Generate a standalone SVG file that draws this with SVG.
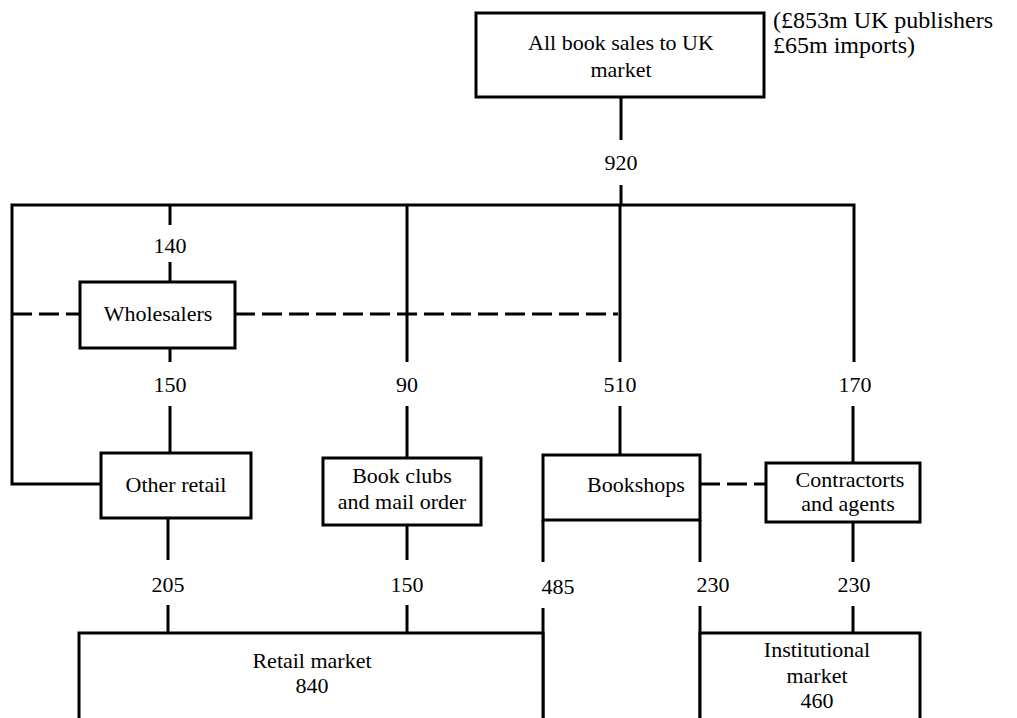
<svg xmlns="http://www.w3.org/2000/svg" width="1017" height="718" viewBox="0 0 1017 718">
<style>
.box{fill:#fff;stroke:#000;stroke-width:3}
.ln{fill:none;stroke:#000;stroke-width:3}
.dash{fill:none;stroke:#000;stroke-width:3;stroke-dasharray:20 7}
text{font-family:'Liberation Serif','Times New Roman',serif;font-size:22px;fill:#000}
.c{text-anchor:middle}
.note{font-size:24px}
</style>
<rect width="1017" height="718" fill="#fff"/>
<g id="connectors">
<path class="ln" d="M621 97V140M621 185V205"/>
<path class="ln" d="M101 484H12V205H854V362"/>
<path class="ln" d="M170 205V225M170 262V282"/>
<path class="ln" d="M170 348V362M170 406V453"/>
<path class="ln" d="M407 205V362M407 406V458"/>
<path class="ln" d="M620 205V362M620 406V455"/>
<path class="ln" d="M853 406V463"/>
<path class="dash" d="M12 314H80M235 314H618"/>
<path class="dash" d="M700 484H766"/>
<path class="ln" d="M543 520V562M543 608V718"/>
<path class="ln" d="M700 520V562M700 606V718"/>
<path class="ln" d="M168 518V560M168 605V633"/>
<path class="ln" d="M407 525V560M407 605V633"/>
<path class="ln" d="M853 522V562M853 606V633"/>
<text class="c" x="621" y="170">920</text>
<text class="c" x="170" y="253">140</text>
<text class="c" x="170" y="392">150</text>
<text class="c" x="407" y="392">90</text>
<text class="c" x="620" y="392">510</text>
<text class="c" x="855" y="392">170</text>
<text class="c" x="168" y="592">205</text>
<text class="c" x="407" y="592">150</text>
<text class="c" x="558" y="594">485</text>
<text class="c" x="713" y="592">230</text>
<text class="c" x="854" y="592">230</text>
</g>
<g id="top">
<rect class="box" x="476" y="13" width="288" height="84"/>
<text class="c" x="621" y="50">All book sales to UK</text>
<text class="c" x="621" y="77">market</text>
</g>
<g id="note">
<text class="note" x="773" y="28">(£853m UK publishers</text>
<text class="note" x="773" y="53">£65m imports)</text>
</g>
<g id="wholesalers">
<rect class="box" x="80" y="282" width="155" height="66"/>
<text class="c" x="158" y="321">Wholesalers</text>
</g>
<g id="other-retail">
<rect class="box" x="101" y="453" width="150" height="65"/>
<text class="c" x="176" y="492">Other retail</text>
</g>
<g id="book-clubs">
<rect class="box" x="323" y="458" width="158" height="67"/>
<text class="c" x="402" y="483">Book clubs</text>
<text class="c" x="402" y="509">and mail order</text>
</g>
<g id="bookshops">
<rect class="box" x="543" y="455" width="157" height="65"/>
<text class="c" x="636" y="492">Bookshops</text>
</g>
<g id="contractors">
<rect class="box" x="766" y="463" width="154" height="59"/>
<text class="c" x="850" y="487">Contractorts</text>
<text class="c" x="848" y="511">and agents</text>
</g>
<g id="retail-market">
<rect class="box" x="79" y="633" width="464" height="95"/>
<text class="c" x="312" y="668">Retail market</text>
<text class="c" x="312" y="693">840</text>
</g>
<g id="institutional-market">
<rect class="box" x="700" y="633" width="220" height="95"/>
<text class="c" x="817" y="657">Institutional</text>
<text class="c" x="817" y="683">market</text>
<text class="c" x="817" y="708">460</text>
</g>
</svg>
